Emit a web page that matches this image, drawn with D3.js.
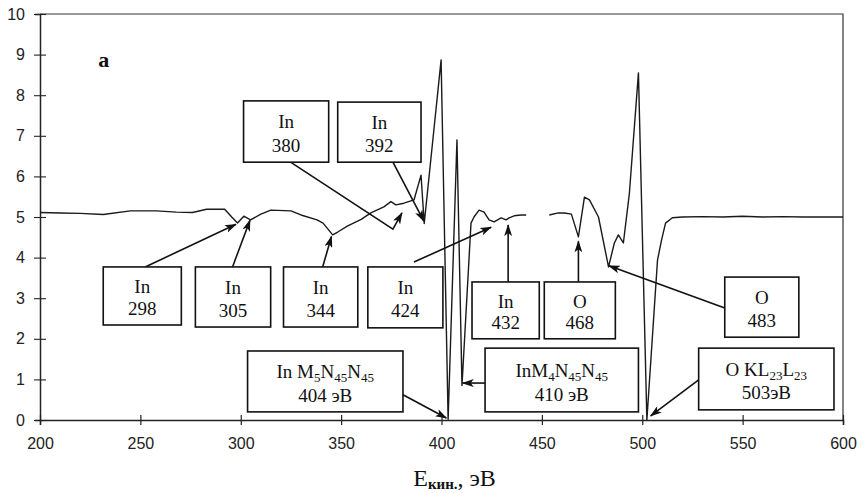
<!DOCTYPE html>
<html>
<head>
<meta charset="utf-8">
<script src="https://cdn.jsdelivr.net/npm/d3@7"></script>
<style>
  body { margin: 0; background: #fff; }
  svg { display: block; }
</style>
</head>
<body>
<div id="chart"></div>
<script>
'use strict'
// Auger spectrum, kinetic energy (eV) vs signal
// null = break in the recorded curve
var energy = [200, 210, 220, 231.5, 245, 258, 268, 276, 283, 292, 295.5, 298.4, 301.5, 304.9, 310, 315, 325, 330, 338, 341,
  345.8, 348.3, 353.3, 360, 364.8, 371.3, 374.8, 377.3, 381.3, 386.3, 389.8, 391.4, 399.8, 403.3, 407.7, 410.2, 414.7, 416.2,
  418.7, 421.2, 423.7, 426.2, 429.7, 432.2, 433.7, 436.2, 439.7, 442.2, 448,
  453.7, 458.2, 461.2, 464.7, 468.2, 471.2, 473.7, 478.2, 483.2, 486.1, 488.1, 490.6, 493.6, 498.1, 502.3, 507.6, 509.6, 511.6,
  515, 520, 530, 540, 550, 560, 570, 580, 590, 600];
var signal = [5.11, 5.10, 5.09, 5.06, 5.15, 5.15, 5.12, 5.11, 5.19, 5.19, 5.0, 4.85, 5.02, 4.93, 5.07, 5.17, 5.15, 5.05, 4.93, 4.85,
  4.56, 4.63, 4.78, 4.94, 5.1, 5.25, 5.38, 5.30, 5.34, 5.42, 6.03, 4.84, 8.87, 0.02, 6.90, 0.85, 4.85, 5.0,
  5.17, 5.12, 4.93, 4.88, 4.98, 4.93, 4.98, 5.03, 5.05, 5.05, null,
  5.05, 5.10, 5.10, 5.07, 4.51, 5.49, 5.42, 5.0, 3.77, 4.36, 4.56, 4.36, 5.59, 8.55, 0.0, 3.94, 4.43, 4.85,
  4.98, 5.0, 5.01, 5.0, 5.02, 5.0, 5.01, 5.0, 5.0, 5.0];

var xTicks = [200, 250, 300, 350, 400, 450, 500, 550, 600];
var yTicks = [0, 1, 2, 3, 4, 5, 6, 7, 8, 9, 10];

// annotation boxes: text lines, box corners [E0, v0, E1, v1], arrow polyline (E, v)
var noteLines = [
  [["In"], ["298"]],
  [["In"], ["305"]],
  [["In"], ["344"]],
  [["In"], ["424"]],
  [["In"], ["432"]],
  [["O"], ["468"]],
  [["O"], ["483"]],
  [["In"], ["380"]],
  [["In"], ["392"]],
  [["In M", "5", "N", "45", "N", "45"], ["404 эВ"]],
  [["InM", "4", "N", "45", "N", "45"], ["410 эВ"]],
  [["O KL", "23", "L", "23"], ["503эВ"]]
];
var noteBoxes = [
  [231.5, 3.77, 270.4, 2.34],
  [277.4, 3.77, 314.9, 2.29],
  [321.3, 3.77, 358.3, 2.29],
  [363.3, 3.77, 400.7, 2.27],
  [415.2, 3.40, 448.7, 2.0],
  [451.2, 3.40, 486.6, 2.0],
  [541.1, 3.52, 578.0, 2.04],
  [301.4, 7.86, 343.8, 6.35],
  [348.3, 7.83, 389.8, 6.35],
  [303.4, 1.70, 380.8, 0.20],
  [421.7, 1.77, 498.1, 0.20],
  [528.1, 1.77, 595.5, 0.25]
];
var noteArrows = [
  [[252.4, 3.77], [297.6, 4.82]],
  [[295.9, 3.77], [304.6, 4.92]],
  [[340.8, 3.77], [345.2, 4.52]],
  [[386.3, 3.89], [424.7, 4.75]],
  [[433.2, 3.40], [433.2, 4.80]],
  [[468.2, 3.40], [468.2, 4.40]],
  [[541.1, 2.76], [483.4, 3.80]],
  [[324.8, 6.35], [375.8, 4.70], [380.3, 5.10]],
  [[375.8, 6.35], [391.2, 4.90]],
  [[380.8, 0.62], [402.4, 0.05]],
  [[421.7, 0.91], [410.6, 0.91]],
  [[528.1, 0.99], [504.2, 0.10]]
];

var W = 864, H = 493;
var margin = {top: 14, right: 21, bottom: 73, left: 40};

var svg = d3.select("#chart").append("svg")
  .attr("width", W)
  .attr("height", H);

var x = d3.scaleLinear().domain([200, 600]).range([margin.left, W - margin.right]);
var y = d3.scaleLinear().domain([0, 10]).range([H - margin.bottom, margin.top]);

var defs = svg.append("defs");
defs.append("marker")
  .attr("id", "head")
  .attr("viewBox", "0 0 12 8")
  .attr("refX", 11)
  .attr("refY", 4)
  .attr("markerWidth", 12)
  .attr("markerHeight", 8)
  .attr("markerUnits", "userSpaceOnUse")
  .attr("orient", "auto")
  .append("path")
  .attr("d", "M0,0 L12,4 L0,8 L3,4 Z")
  .attr("fill", "#111");

// frame: top + right border
svg.append("path")
  .attr("d", "M" + x(200) + "," + y(10) + "H" + x(600) + "V" + y(0))
  .attr("fill", "none")
  .attr("stroke", "#333")
  .attr("stroke-width", 1.2);

// x axis with minor ticks every 10
var xAxisG = svg.append("g").attr("transform", "translate(0," + y(0) + ")");
xAxisG.call(d3.axisBottom(x).tickValues(d3.range(200, 601, 10)).tickSize(5).tickFormat(""));
xAxisG.call(d3.axisBottom(x).tickValues(xTicks).tickSize(5).tickPadding(13).tickFormat(d3.format("d")));
xAxisG.selectAll(".tick line").attr("stroke", "#222").attr("stroke-width", 1.2);
// majors cross the axis
xAxisG.selectAll(".tick").filter(function (d) { return xTicks.indexOf(d) >= 0; })
  .select("line").attr("y1", -5).attr("y2", 5);
xAxisG.selectAll(".tick text")
  .attr("font-family", "'Liberation Sans', Arial, sans-serif")
  .attr("font-size", 16)
  .attr("fill", "#222");
xAxisG.selectAll(".domain").attr("stroke", "#222").attr("stroke-width", 1.5);

// y axis with minor ticks every 0.2
var yAxisG = svg.append("g").attr("transform", "translate(" + x(200) + ",0)");
yAxisG.call(d3.axisLeft(y).tickValues(d3.range(0, 10.01, 0.2)).tickSize(4).tickFormat(""));
yAxisG.call(d3.axisLeft(y).tickValues(yTicks).tickSize(5).tickPadding(10).tickFormat(d3.format("d")));
yAxisG.selectAll(".tick line").attr("stroke", "#222").attr("stroke-width", 1.1);
yAxisG.selectAll(".tick").filter(function (d) { return yTicks.indexOf(d) >= 0; })
  .select("line").attr("x1", 6).attr("x2", -6);
yAxisG.selectAll(".tick text")
  .attr("font-family", "'Liberation Sans', Arial, sans-serif")
  .attr("font-size", 16)
  .attr("fill", "#222");
yAxisG.selectAll(".domain").attr("stroke", "#222").attr("stroke-width", 1.5);

// spectrum
var pts = energy.map(function (e, i) { return [e, signal[i]]; });
var line = d3.line()
  .defined(function (d) { return d[1] != null; })
  .x(function (d) { return x(d[0]); })
  .y(function (d) { return y(d[1]); });
svg.append("path")
  .datum(pts)
  .attr("d", line)
  .attr("fill", "none")
  .attr("stroke", "#1a1a1a")
  .attr("stroke-width", 1.4)
  .attr("stroke-linejoin", "round");

// panel letter
svg.append("text")
  .attr("x", x(229))
  .attr("y", y(8.7))
  .attr("font-family", "'Liberation Serif', 'Times New Roman', serif")
  .attr("font-weight", "bold")
  .attr("font-size", 22)
  .attr("fill", "#111")
  .text("a");

// arrows
var arrowLine = d3.line().x(function (d) { return x(d[0]); }).y(function (d) { return y(d[1]); });
svg.append("g").selectAll("path")
  .data(noteArrows)
  .enter().append("path")
  .attr("d", arrowLine)
  .attr("fill", "none")
  .attr("stroke", "#111")
  .attr("stroke-width", 1.6)
  .attr("marker-end", "url(#head)");

// annotation boxes
var notes = svg.append("g").selectAll("g")
  .data(noteBoxes.map(function (b, i) { return {box: b, lines: noteLines[i]}; }))
  .enter().append("g");
notes.append("rect")
  .attr("x", function (d) { return x(d.box[0]); })
  .attr("y", function (d) { return y(d.box[1]); })
  .attr("width", function (d) { return x(d.box[2]) - x(d.box[0]); })
  .attr("height", function (d) { return y(d.box[3]) - y(d.box[1]); })
  .attr("fill", "#fff")
  .attr("stroke", "#111")
  .attr("stroke-width", 1.6);

notes.each(function (d) {
  var g = d3.select(this);
  var cx = (x(d.box[0]) + x(d.box[2])) / 2;
  var top = y(d.box[1]);
  var h = y(d.box[3]) - top;
  d.lines.forEach(function (parts, li) {
    var t = g.append("text")
      .attr("x", cx)
      .attr("y", top + h * (li === 0 ? 0.45 : 0.83))
      .attr("text-anchor", "middle")
      .attr("font-family", "'Liberation Serif', 'Times New Roman', serif")
      .attr("font-size", 19)
      .attr("fill", "#111");
    parts.forEach(function (p, k) {
      var ts = t.append("tspan").text(p);
      if (k % 2 === 1) ts.attr("font-size", 13).attr("dy", 4);
      else if (k > 0) ts.attr("dy", -4);
    });
  });
});

// axis title
var title = svg.append("text")
  .attr("x", x(406.5))
  .attr("y", 486)
  .attr("text-anchor", "middle")
  .attr("font-family", "'Liberation Serif', 'Times New Roman', serif")
  .attr("font-size", 24)
  .attr("fill", "#111");
title.append("tspan").text("E");
title.append("tspan").text("кин.").attr("font-size", 15).attr("font-weight", "bold").attr("dy", 3);
title.append("tspan").text(", эВ").attr("dy", -3);
</script>
</body>
</html>
